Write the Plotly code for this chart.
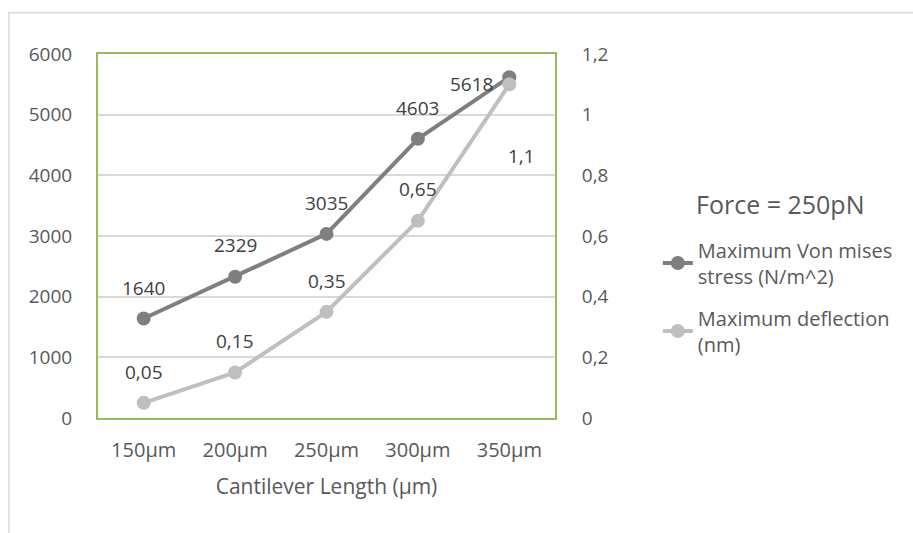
import plotly.graph_objects as go

# ---- data ----
categories = ["150µm", "200µm", "250µm", "300µm", "350µm"]
stress_values = [1640, 2329, 3035, 4603, 5618]          # N/m^2 (left axis)
deflection_values = [0.05, 0.15, 0.35, 0.65, 1.1]        # nm (right axis)
stress_name = "Maximum Von mises<br>stress (N/m^2)"
deflection_name = "Maximum deflection<br>(nm)"
legend_title = "Force = 250pN"
x_title = "Cantilever Length (µm)"

# label offsets (pixels) mimicking the original label placement
stress_label_shift = [(0, 31), (0, 32), (0, 31), (0, 31), (-38, -7)]
defl_label_shift = [(0, 31), (0, 32), (0, 31), (0, 32), (12, -72)]

FONT = "Open Sans"
TXT = "#595959"
LBL = "#404040"
DARK = "#7F7F7F"
LIGHT = "#BFBFBF"
GREEN = "#9BBB59"

fig = go.Figure()
fig.add_trace(go.Scatter(
    x=categories, y=stress_values, name=stress_name, mode="lines+markers",
    line=dict(color=DARK, width=4), marker=dict(color=DARK, size=14),
    legendgroup="a", yaxis="y"))
fig.add_trace(go.Scatter(
    x=categories, y=deflection_values, name=deflection_name, mode="lines+markers",
    line=dict(color=LIGHT, width=4), marker=dict(color=LIGHT, size=14),
    legendgroup="b", yaxis="y2"))

annotations = []
for c, v, (dx, dy) in zip(categories, stress_values, stress_label_shift):
    annotations.append(dict(x=c, y=v, xref="x", yref="y", text=str(v),
                            showarrow=False, xshift=dx, yshift=dy,
                            font=dict(family=FONT, size=19, color=LBL)))
for c, v, (dx, dy) in zip(categories, deflection_values, defl_label_shift):
    annotations.append(dict(x=c, y=v, xref="x", yref="y2",
                            text=("%g" % v).replace(".", ","),
                            showarrow=False, xshift=dx, yshift=dy,
                            font=dict(family=FONT, size=19, color=LBL)))
annotations.append(dict(x=1.305, y=0.588, xref="paper", yref="paper",
                        text=legend_title, showarrow=False,
                        xanchor="left", yanchor="middle",
                        font=dict(family=FONT, size=25, color=TXT)))

fig.update_layout(
    width=913, height=533,
    margin=dict(l=98, r=358, t=54, b=115),
    paper_bgcolor="white", plot_bgcolor="white",
    separators=",.",
    font=dict(family=FONT, size=19, color=TXT),
    showlegend=True,
    legend=dict(x=1.225, y=0.515, xanchor="left", yanchor="top",
                font=dict(family=FONT, size=20, color=TXT),
                bgcolor="rgba(0,0,0,0)", tracegroupgap=13),
    xaxis=dict(type="category", range=[-0.5, 4.5],
               showline=True, linecolor=GREEN, linewidth=2, mirror=True,
               showgrid=False, zeroline=False,
               ticks="outside", ticklen=13, tickcolor="rgba(0,0,0,0)",
               tickfont=dict(family=FONT, size=20, color=TXT),
               title=dict(text=x_title, standoff=17,
                          font=dict(family=FONT, size=21, color=TXT))),
    yaxis=dict(range=[0, 6000], dtick=1000,
               showline=True, linecolor=GREEN, linewidth=2, mirror=True,
               showgrid=True, gridcolor="#D9D9D9", gridwidth=1.5,
               zeroline=False,
               ticks="outside", ticklen=20, tickcolor="rgba(0,0,0,0)",
               tickfont=dict(family=FONT, size=19, color=TXT)),
    yaxis2=dict(range=[0, 1.2], dtick=0.2, overlaying="y", side="right",
                showgrid=False, zeroline=False, showline=False,
                ticks="outside", ticklen=22, tickcolor="rgba(0,0,0,0)",
                tickfont=dict(family=FONT, size=19, color=TXT)),
    annotations=annotations,
    shapes=[dict(type="rect", xref="paper", yref="paper",
                 x0=-0.195, x1=2.5, y0=-1.0, y1=1.113,
                 line=dict(color="#D9D9D9", width=1.5), layer="below")],
)

fig.write_html("out.html")
